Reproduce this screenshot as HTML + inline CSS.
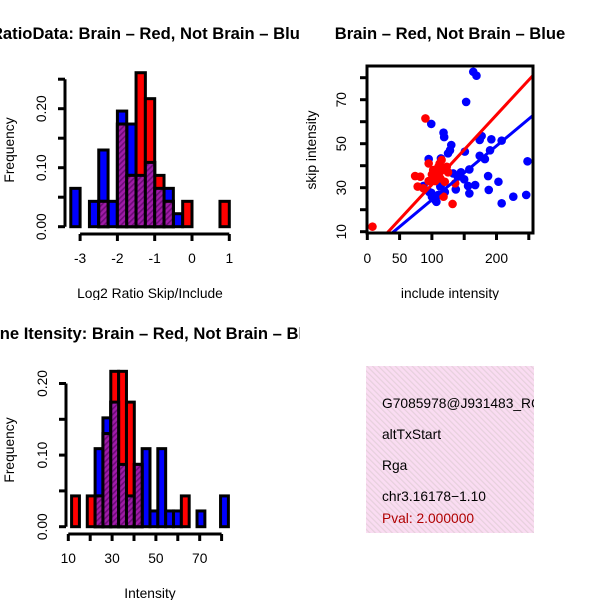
<!DOCTYPE html>
<html><head><meta charset="utf-8"><style>
html,body{margin:0;padding:0;background:#fff;}
svg{display:block;font-family:"Liberation Sans",sans-serif;}
</style></head><body>
<svg id="c" width="600" height="600" viewBox="0 0 600 600" xmlns="http://www.w3.org/2000/svg">
<defs>
<pattern id="hatch" width="4" height="4" patternUnits="userSpaceOnUse" patternTransform="rotate(45)">
<rect width="4" height="4" fill="#a01ca8"/><rect width="1.6" height="4" fill="#6e0a78"/>
</pattern>
<pattern id="pink" width="4" height="4" patternUnits="userSpaceOnUse" patternTransform="rotate(-45)">
<rect width="4" height="4" fill="#fadcf2"/><rect width="1.2" height="4" fill="#e6d0dc"/>
</pattern>
<clipPath id="q1"><rect x="0" y="0" width="300" height="300"/></clipPath>
<clipPath id="q2"><rect x="300" y="0" width="300" height="300"/></clipPath>
<clipPath id="q3"><rect x="0" y="300" width="300" height="300"/></clipPath>
<clipPath id="q4"><rect x="366" y="366" width="168" height="168"/></clipPath>
<clipPath id="sbox"><rect x="367" y="66" width="166" height="167"/></clipPath>
</defs>
<g id="p1" clip-path="url(#q1)"></g>
<g id="p2" clip-path="url(#q2)"></g>
<g id="p3" clip-path="url(#q3)"></g>
<g id="p4">
<rect x="366" y="366" width="168" height="167" fill="url(#pink)"/>
<g clip-path="url(#q4)" font-size="13.8">
<text x="382" y="408">G7085978@J931483_RC</text>
<text x="382" y="439">altTxStart</text>
<text x="382" y="470">Rga</text>
<text x="382" y="501">chr3.16178−1.10</text>
<text x="382" y="523" fill="#b00000">Pval: 2.000000</text>
</g>
</g>
</svg>
<script>
// ---- data: ratio histogram (bins of 0.25 from -3.25) ----
const ratioBinStart = -3.25;
const ratioBinWidth = 0.25;
const ratioBlue = [0.065,0,0.043,0.13,0.043,0.196,0.174,0.087,0.109,0.065,0.065,0.022,0,0,0,0,0];
const ratioRed  = [0,0,0,0.043,0,0.174,0.087,0.261,0.217,0.087,0.043,0,0.043,0,0,0,0.043];
const ratioXTicks = [-3,-2,-1,0,1];
const ratioYTicks = [0,0.05,0.10,0.15,0.20,0.25];
const ratioYLabels = ["0.00","","0.10","","0.20",""];
// ---- data: intensity histogram ----
const intBinStart = 11.5;
const intBinWidth = 3.58;
const intBlue = [0,0,0,0.109,0.152,0.174,0.087,0.043,0.087,0.109,0.022,0.109,0.022,0.022,0,0,0.022,0,0,0.043];
const intRed  = [0.043,0,0.043,0.043,0.13,0.217,0.217,0.174,0.087,0,0,0,0,0,0.043,0,0,0,0,0];
const intXTicks = [10,20,30,40,50,60,70,80];
const intXLabels = ["10","","30","","50","","70",""];
const intYTicks = [0,0.05,0.10,0.15,0.20];
const intYLabels = ["0.00","","0.10","","0.20"];
// ---- data: scatter ----
const blueX = [164,169,153,99,118,119,130,128,125,95,114,151,177,174,192,208,190,174,182,158,133,102,187,203,150,167,156,115,87,137,188,99,110,105,107,158,208,226,246,248,113,100,140,120,145,96];
const blueY = [82.7,80.9,69,59,55,53,49.4,47,45.6,43,43.3,46.4,53.5,51.7,52,51.4,47,44.5,43,38.3,36.5,34.7,35.3,32.7,33.8,31.2,30.8,31.7,30.8,29.2,29,27.7,26.7,24.4,23.6,27.4,22.9,25.9,26.7,42,30.5,25.9,35,28,37,28];
const redX = [90,8,95,110,115,123,113,74,82,78,87,118,132,120,136,115,108,100,105,125,95,112,102];
const redY = [61.5,12.3,41,39.5,38,39.5,34.2,35.3,35,30.5,29.7,25.9,22.6,32.7,32,42.6,36.5,36,33,37,33,41,38];
const fitRed = [-0.3, 0.317];
const fitBlue = [0.0, 0.245];
const scXTicks = [0,50,100,150,200,250];
const scXLabels = ["0","50","100","","200",""];
const scYTicks = [10,20,30,40,50,60,70,80];
const scYLabels = ["10","","30","","50","","70",""];

const FS = 13.8, TFS = 16.6;
const NS = "http://www.w3.org/2000/svg";
function mk(parent, tag, attrs, text){
  const e = document.createElementNS(NS, tag);
  for (const k in attrs) e.setAttribute(k, attrs[k]);
  if (text !== undefined) e.textContent = text;
  parent.appendChild(e); return e;
}

function histogram(g, o){
  const n = o.blue.length;
  for (let i=0;i<n;i++){
    if (o.blue[i] <= 0) continue;
    const x0 = o.x(o.start + i*o.w), x1 = o.x(o.start + (i+1)*o.w);
    const r = mk(g,'rect',{x:x0,y:o.y(o.blue[i]),width:x1-x0,height:o.y(0)-o.y(o.blue[i]),fill:'#0000ff',stroke:'#000','stroke-width':3});
    
    
  }
  for (let i=0;i<n;i++){
    if (o.red[i] <= 0) continue;
    const x0 = o.x(o.start + i*o.w), x1 = o.x(o.start + (i+1)*o.w);
    const r = mk(g,'rect',{x:x0,y:o.y(o.red[i]),width:x1-x0,height:o.y(0)-o.y(o.red[i]),fill:'#ff0000',stroke:'#000','stroke-width':3});
    
    
  }
  for (let i=0;i<n;i++){
    const m = Math.min(o.blue[i], o.red[i]);
    if (m <= 0) continue;
    const x0 = o.x(o.start + i*o.w), x1 = o.x(o.start + (i+1)*o.w);
    const r = mk(g,'rect',{x:x0,y:o.y(m),width:x1-x0,height:o.y(0)-o.y(m),fill:'url(#hatch)',stroke:'#000','stroke-width':3});
    
    
  }
  const xa = mk(g,'g',{});
  
  
  mk(xa,'line',{x1:o.x(o.xt[0]),x2:o.x(o.xt[o.xt.length-1]),y1:o.axY,y2:o.axY,stroke:'#000','stroke-width':3});
  o.xt.forEach((v,i)=>{
    mk(xa,'line',{x1:o.x(v),x2:o.x(v),y1:o.axY,y2:o.axY+7,stroke:'#000','stroke-width':3});
    if (o.xl[i]!=="") { const t = mk(xa,'text',{x:o.x(v),y:o.axY+29,'text-anchor':'middle','font-size':FS},o.xl[i]);
      
       }
  });
  const ya = mk(g,'g',{});
  
  
  mk(ya,'line',{x1:o.axX,x2:o.axX,y1:o.y(o.yt[0]),y2:o.y(o.yt[o.yt.length-1]),stroke:'#000','stroke-width':3});
  o.yt.forEach((v,i)=>{
    mk(ya,'line',{x1:o.axX,x2:o.axX-7,y1:o.y(v),y2:o.y(v),stroke:'#000','stroke-width':3});
    if (o.yl[i]!=="") { const t = mk(ya,'text',{x:0,y:0,'text-anchor':'middle','font-size':FS,transform:`translate(${o.axX-19},${o.y(v)}) rotate(-90)`},o.yl[i]);
      
       }
  });
}

const p1 = document.getElementById('p1');
histogram(p1,{blue:ratioBlue,red:ratioRed,start:ratioBinStart,w:ratioBinWidth,
  x:v=>192+v*37.3, y:f=>226.7-f*590, xt:ratioXTicks, xl:ratioXTicks.map(String), yt:ratioYTicks, yl:ratioYLabels, axY:234, axX:65});
let t;
t = mk(p1,'text',{x:150,y:39,'text-anchor':'middle','font-size':TFS,'font-weight':'bold'},'RatioData: Brain – Red, Not Brain – Blue');
 
t = mk(p1,'text',{x:150,y:298,'text-anchor':'middle','font-size':FS},'Log2 Ratio Skip/Include');
 
t = mk(p1,'text',{x:0,y:0,'text-anchor':'middle','font-size':FS,transform:'translate(14,150) rotate(-90)'},'Frequency');
 

const p3 = document.getElementById('p3');
histogram(p3,{blue:intBlue,red:intRed,start:intBinStart,w:intBinWidth,
  x:v=>68.3+(v-10)*2.19, y:f=>526.7-f*716, xt:intXTicks, xl:intXLabels, yt:intYTicks, yl:intYLabels, axY:534, axX:66});
t = mk(p3,'text',{x:150,y:339,'text-anchor':'middle','font-size':TFS,'font-weight':'bold'},'Gene Itensity: Brain – Red, Not Brain – Blue');
 
t = mk(p3,'text',{x:150,y:598,'text-anchor':'middle','font-size':FS},'Intensity');
 
t = mk(p3,'text',{x:0,y:0,'text-anchor':'middle','font-size':FS,transform:'translate(14,450) rotate(-90)'},'Frequency');
 

const p2 = document.getElementById('p2');
const sx = v=>367.3+v*0.646, sy = v=>231.7-(v-10)*2.2;
const pts = mk(p2,'g',{'clip-path':'url(#sbox)'});


blueX.forEach((v,i)=>{
  const c = mk(pts,'circle',{cx:sx(v),cy:sy(blueY[i]),r:4.3,fill:'#0000ff'});
  
  
});
redX.forEach((v,i)=>{
  const c = mk(pts,'circle',{cx:sx(v),cy:sy(redY[i]),r:4.3,fill:'#ff0000'});
  
  
});
[[fitBlue,'#0000ff','blue-fit-line'],[fitRed,'#ff0000','red-fit-line']].forEach(([f,col,nm])=>{
  const xa=-5, xb=270;
  const l = mk(pts,'line',{x1:sx(xa),y1:sy(f[0]+f[1]*xa),x2:sx(xb),y2:sy(f[0]+f[1]*xb),stroke:col,'stroke-width':3});
  
  
});
const box = mk(p2,'rect',{x:367,y:66,width:166,height:167,fill:'none',stroke:'#000','stroke-width':3});


scXTicks.forEach((v,i)=>{
  mk(p2,'line',{x1:sx(v),x2:sx(v),y1:233,y2:240,stroke:'#000','stroke-width':3});
  if (scXLabels[i]!=="") { const tt = mk(p2,'text',{x:sx(v),y:263,'text-anchor':'middle','font-size':FS},scXLabels[i]);
      }
});
scYTicks.forEach((v,i)=>{
  mk(p2,'line',{x1:367,x2:360,y1:sy(v),y2:sy(v),stroke:'#000','stroke-width':3});
  if (scYLabels[i]!=="") { const tt = mk(p2,'text',{x:0,y:0,'text-anchor':'middle','font-size':FS,transform:`translate(346,${sy(v)}) rotate(-90)`},scYLabels[i]);
      }
});
t = mk(p2,'text',{x:450,y:39,'text-anchor':'middle','font-size':TFS,'font-weight':'bold'},'Brain – Red, Not Brain – Blue');
 
t = mk(p2,'text',{x:450,y:298,'text-anchor':'middle','font-size':FS},'include intensity');
 
t = mk(p2,'text',{x:0,y:0,'text-anchor':'middle','font-size':FS,transform:'translate(316,150) rotate(-90)'},'skip intensity');
 
</script>
</body></html>
